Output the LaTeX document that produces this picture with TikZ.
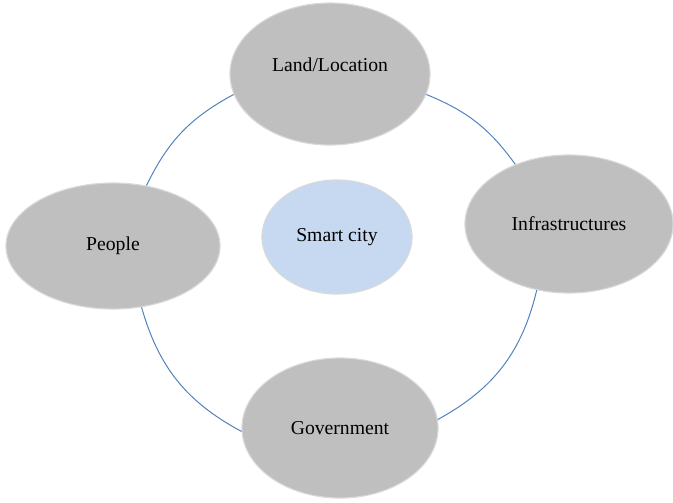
\documentclass[tikz,border=0pt]{standalone}
\usepackage{fontspec}
\setmainfont{Liberation Serif}
\usepackage{tikz}
\usetikzlibrary{shapes.geometric, positioning}
\definecolor{petal}{HTML}{BFBFBF}
\definecolor{hub}{HTML}{C6D9F1}
\definecolor{ring}{HTML}{4F81BD}

\begin{document}
\begin{tikzpicture}[x=0.025cm, y=-0.025cm,
    blob/.style={ellipse, fill=#1, draw=white!85!black, line width=0.8pt,
                 inner sep=0pt, font=\fontsize{14}{16}\selectfont, text=black},
    link/.style={draw=ring, line width=0.7pt}
]
\useasboundingbox (0,0) rectangle (673,502);

\node[blob=petal, minimum width=5cm,    minimum height=3.55cm, text depth=0.45cm] (land) at (330,74) {Land/Location};
\node[blob=petal, minimum width=5.35cm, minimum height=3.15cm] (people) at (113,246) {People};
\node[blob=petal, minimum width=5.2cm,  minimum height=3.45cm] (infra)  at (569,224) {Infrastructures};
\node[blob=petal, minimum width=4.9cm,  minimum height=3.5cm]  (gov)    at (340,428) {Government};
\node[blob=hub,   minimum width=3.75cm, minimum height=2.85cm] (city)   at (337,237) {Smart city};

% ring of arcs between the outer ellipses
\draw[link] (land.192)  to[bend right=18] (people.61);
\draw[link] (people.-65) to[bend right=23] (gov.182);
\draw[link] (gov.5)     to[bend right=24] (infra.244);
\draw[link] (infra.132) to[bend right=16] (land.-12);
\end{tikzpicture}
\end{document}
